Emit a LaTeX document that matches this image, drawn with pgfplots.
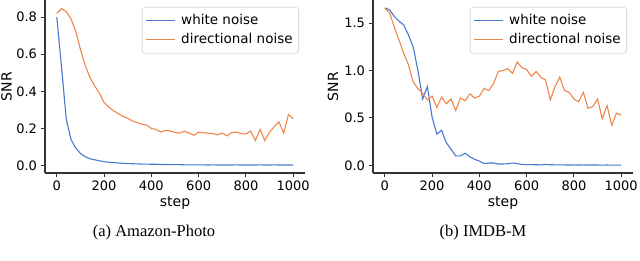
\documentclass[border=0pt]{standalone}
\usepackage{fontspec}
\setmainfont{DejaVu Sans}
\newfontfamily\capfont{Liberation Serif}
\usepackage{pgfplots}
\pgfplotsset{compat=1.18}
\definecolor{cblue}{HTML}{4878D0}
\definecolor{corange}{HTML}{EE854A}
\definecolor{spine}{HTML}{333333}

\pgfplotsset{
  snrstyle/.style={
    scale only axis, width=260bp, height=173bp,
    axis x line*=bottom, axis y line*=left,
    axis line style={-, spine, line width=1.1bp},
    tick style={spine, line width=1bp},
    tick align=outside, major tick length=4.5bp,
    xmin=-50, xmax=1050,
    xtick={0,200,400,600,800,1000},
    xticklabels={0,200,400,600,800,1000},
    ticklabel style={font=\fontsize{13bp}{15bp}\selectfont},
    xlabel={step}, ylabel={SNR},
    every axis x label/.style={at={(rel axis cs:0.5,0)}, yshift=-30bp, anchor=center,
      font=\fontsize{14bp}{16bp}\selectfont},
    legend cell align=left,
    legend image code/.code={\draw[#1] (0bp,0bp) -- (29bp,0bp);},
    legend style={
      at={(rel axis cs:0.977,0.96)}, anchor=north east,
      draw=black!15, line width=0.8bp, rounded corners=3bp, fill=white,
      inner xsep=3bp, inner ysep=4bp, column sep=3bp,
      font=\fontsize{13.5bp}{16bp}\selectfont,
      nodes={inner sep=3bp, text height=10bp, text depth=3bp},
    },
  },
  wn/.style={cblue, line width=1.1bp, no marks},
  dn/.style={corange, line width=1.1bp, no marks},
}

\begin{document}
\begin{tikzpicture}
\path[use as bounding box] (0,0) rectangle (640bp,261bp);

% ---------------- (a) Amazon-Photo ----------------
\begin{axis}[snrstyle,
  at={(45bp,88bp)}, anchor=south west,
  ymin=-0.04, ymax=0.892,
  ytick={0,0.2,0.4,0.6,0.8},
  yticklabels={0.0,0.2,0.4,0.6,0.8},
  every axis y label/.style={at={(rel axis cs:0,0.5)}, xshift=-38.5bp, rotate=90, anchor=center,
    font=\fontsize{14bp}{16bp}\selectfont},
]
\addplot[wn] coordinates {
(0,0.80) (20,0.53) (40,0.25) (60,0.14) (80,0.095) (100,0.065) (120,0.048)
(140,0.037) (160,0.031) (180,0.026) (200,0.021) (220,0.018) (240,0.016)
(260,0.014) (280,0.012) (300,0.011) (320,0.010) (340,0.009) (360,0.008)
(380,0.008) (400,0.007) (420,0.007) (440,0.006) (460,0.006) (480,0.005)
(500,0.005) (520,0.005) (540,0.004) (560,0.004) (580,0.004) (600,0.004)
(620,0.004) (640,0.003) (660,0.004) (680,0.003) (700,0.003) (720,0.003)
(740,0.003) (760,0.004) (780,0.003) (800,0.003) (820,0.003) (840,0.003)
(860,0.004) (880,0.003) (900,0.003) (920,0.004) (940,0.003) (960,0.003)
(980,0.003) (1000,0.003)
};
\addlegendentry{white noise}
\addplot[dn] coordinates {
(0,0.82) (20,0.845) (40,0.83) (60,0.79) (80,0.725) (100,0.625) (120,0.54)
(140,0.475) (160,0.43) (180,0.39) (200,0.34) (220,0.315) (240,0.295)
(260,0.28) (280,0.265) (300,0.255) (320,0.24) (340,0.232) (360,0.223)
(380,0.218) (400,0.20) (420,0.195) (440,0.18) (460,0.19) (480,0.186)
(500,0.178) (520,0.175) (540,0.185) (560,0.175) (580,0.163) (600,0.18)
(620,0.176) (640,0.175) (660,0.172) (680,0.166) (700,0.175) (720,0.16)
(740,0.178) (760,0.18) (780,0.172) (800,0.17) (820,0.186) (840,0.135)
(860,0.195) (880,0.135) (900,0.18) (920,0.21) (940,0.235) (960,0.175)
(980,0.275) (1000,0.252)
};
\addlegendentry{directional noise}
\end{axis}

% ---------------- (b) IMDB-M ----------------
\begin{axis}[snrstyle,
  at={(373bp,88bp)}, anchor=south west,
  ymin=-0.08, ymax=1.743,
  ytick={0,0.5,1.0,1.5},
  yticklabels={0.0,0.5,1.0,1.5},
  every axis y label/.style={at={(rel axis cs:0,0.5)}, xshift=-40bp, rotate=90, anchor=center,
    font=\fontsize{14bp}{16bp}\selectfont},
]
\addplot[wn] coordinates {
(0,1.66) (20,1.64) (40,1.57) (60,1.52) (80,1.48) (100,1.375) (120,1.25)
(140,1.00) (160,0.70) (180,0.83) (200,0.51) (220,0.33) (240,0.37)
(260,0.24) (280,0.17) (300,0.10) (320,0.10) (340,0.128) (360,0.09)
(380,0.064) (400,0.046) (420,0.02) (440,0.025) (460,0.025) (480,0.015)
(500,0.015) (520,0.018) (540,0.025) (560,0.018) (580,0.01) (600,0.008)
(620,0.008) (640,0.007) (660,0.006) (680,0.01) (700,0.007) (720,0.006)
(740,0.005) (760,0.005) (780,0.004) (800,0.005) (820,0.004) (840,0.005)
(860,0.004) (880,0.004) (900,0.004) (920,0.003) (940,0.004) (960,0.003)
(980,0.003) (1000,0.003)
};
\addlegendentry{white noise}
\addplot[dn] coordinates {
(0,1.655) (20,1.61) (40,1.46) (60,1.32) (80,1.18) (100,1.06) (120,0.88)
(140,0.81) (160,0.76) (180,0.69) (200,0.73) (220,0.61) (240,0.72)
(260,0.65) (280,0.70) (300,0.58) (320,0.71) (340,0.68) (360,0.755)
(380,0.71) (400,0.73) (420,0.81) (440,0.79) (460,0.86) (480,0.99)
(500,1.00) (520,1.02) (540,0.97) (560,1.09) (580,1.03) (600,1.01)
(620,0.94) (640,0.99) (660,0.93) (680,0.90) (700,0.69) (720,0.83)
(740,0.93) (760,0.79) (780,0.77) (800,0.70) (820,0.67) (840,0.77)
(860,0.60) (880,0.62) (900,0.70) (920,0.49) (940,0.63) (960,0.425)
(980,0.55) (1000,0.53)
};
\addlegendentry{directional noise}
\end{axis}

\node[font=\capfont\fontsize{16.5bp}{19bp}\selectfont, anchor=center] at (154bp,28bp) {(a) Amazon-Photo};
\node[font=\capfont\fontsize{16.5bp}{19bp}\selectfont, anchor=center] at (483bp,28bp) {(b) IMDB-M};
\end{tikzpicture}
\end{document}
